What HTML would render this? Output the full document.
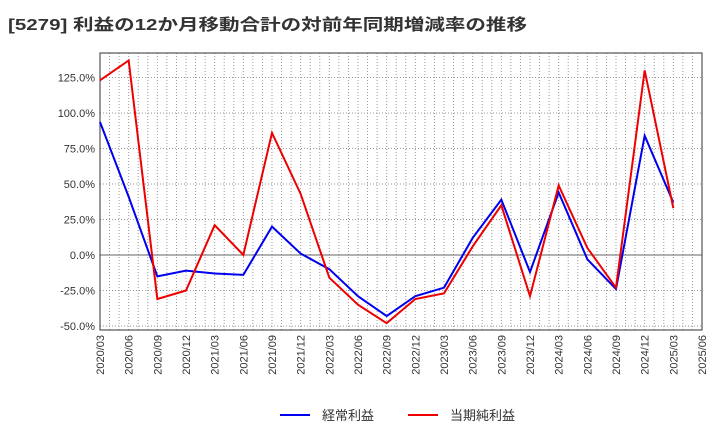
<!DOCTYPE html>
<html><head><meta charset="utf-8"><style>
body{margin:0;background:#fff;font-family:"Liberation Sans","Noto Sans CJK JP",sans-serif;}
</style></head><body>
<svg id="c" width="720" height="440" xmlns="http://www.w3.org/2000/svg">
<text x="8" y="30" font-size="16" font-weight="bold" fill="#333" textLength="519" lengthAdjust="spacingAndGlyphs" font-family="Liberation Sans,Noto Sans CJK JP,sans-serif">[5279]  利益の12か月移動合計の対前年同期増減率の推移</text>
</svg>
<script>
const categories=["2020/03","2020/06","2020/09","2020/12","2021/03","2021/06","2021/09","2021/12","2022/03","2022/06","2022/09","2022/12","2023/03","2023/06","2023/09","2023/12","2024/03","2024/06","2024/09","2024/12","2025/03","2025/06"];
const ordinaryProfit=[93.7,41,-15,-11,-13,-14,20,1,-10,-29,-43,-29,-23,12,39,-12,44,-3,-24,84,37];
const netProfit=[123,137,-31,-25,21,0,86,43,-16,-35,-48,-31,-27,6,35,-29,49,5,-23,130,33];
const yTicks=[-50,-25,0,25,50,75,100,125];
const svg=document.getElementById('c');const NS='http://www.w3.org/2000/svg';
const L=100,R=702,T=53,B=330;
const x=i=>L+i*(R-L)/(categories.length-1);
const y=v=>255-v*1.42;
function mk(t,a,p){const e=document.createElementNS(NS,t);for(const k in a)e.setAttribute(k,a[k]);(p||svg).appendChild(e);return e;}
for(let m=0;m<=(categories.length-1)*3;m++){const xm=x(m/3);
const g=mk('line',{x1:xm,x2:xm,y1:T,y2:B,stroke:'#999','stroke-dasharray':'1,2'});
}
yTicks.forEach(v=>{const z=v===0;const g=mk('line',{x1:L,x2:R,y1:y(v),y2:y(v),stroke:z?'#666':'#999','stroke-dasharray':z?'none':'1,2'});

const t=mk('text',{x:L-5,y:y(v)+4,'text-anchor':'end','font-size':'11',fill:'#333'});t.textContent=v.toFixed(1)+'%';
});
categories.forEach((c,i)=>{
const t=mk('text',{x:0,y:0,'text-anchor':'end','font-size':'11',fill:'#333',transform:`translate(${x(i)+4},${B+5}) rotate(-90)`});t.textContent=c;
});
const fr=mk('rect',{x:L,y:T,width:R-L,height:B-T,fill:'none',stroke:'#333'});

function line(d,col,name){const p=mk('polyline',{points:d.map((v,i)=>x(i)+','+y(v)).join(' '),fill:'none',stroke:col,'stroke-width':2});
}
line(ordinaryProfit,'#0000ee','ordinary-profit-line');
line(netProfit,'#ee0000','net-profit-line');
function leg(x0,col,label,name){const g=mk('g',{});
mk('line',{x1:x0,x2:x0+30,y1:415,y2:415,stroke:col,'stroke-width':2},g);
const t=mk('text',{x:x0+42,y:420,'font-size':'13',fill:'#333'},g);t.textContent=label;}
leg(280,'#0000ee','経常利益','legend-ordinary-profit');
leg(408,'#ee0000','当期純利益','legend-net-profit');
</script>
</body></html>
